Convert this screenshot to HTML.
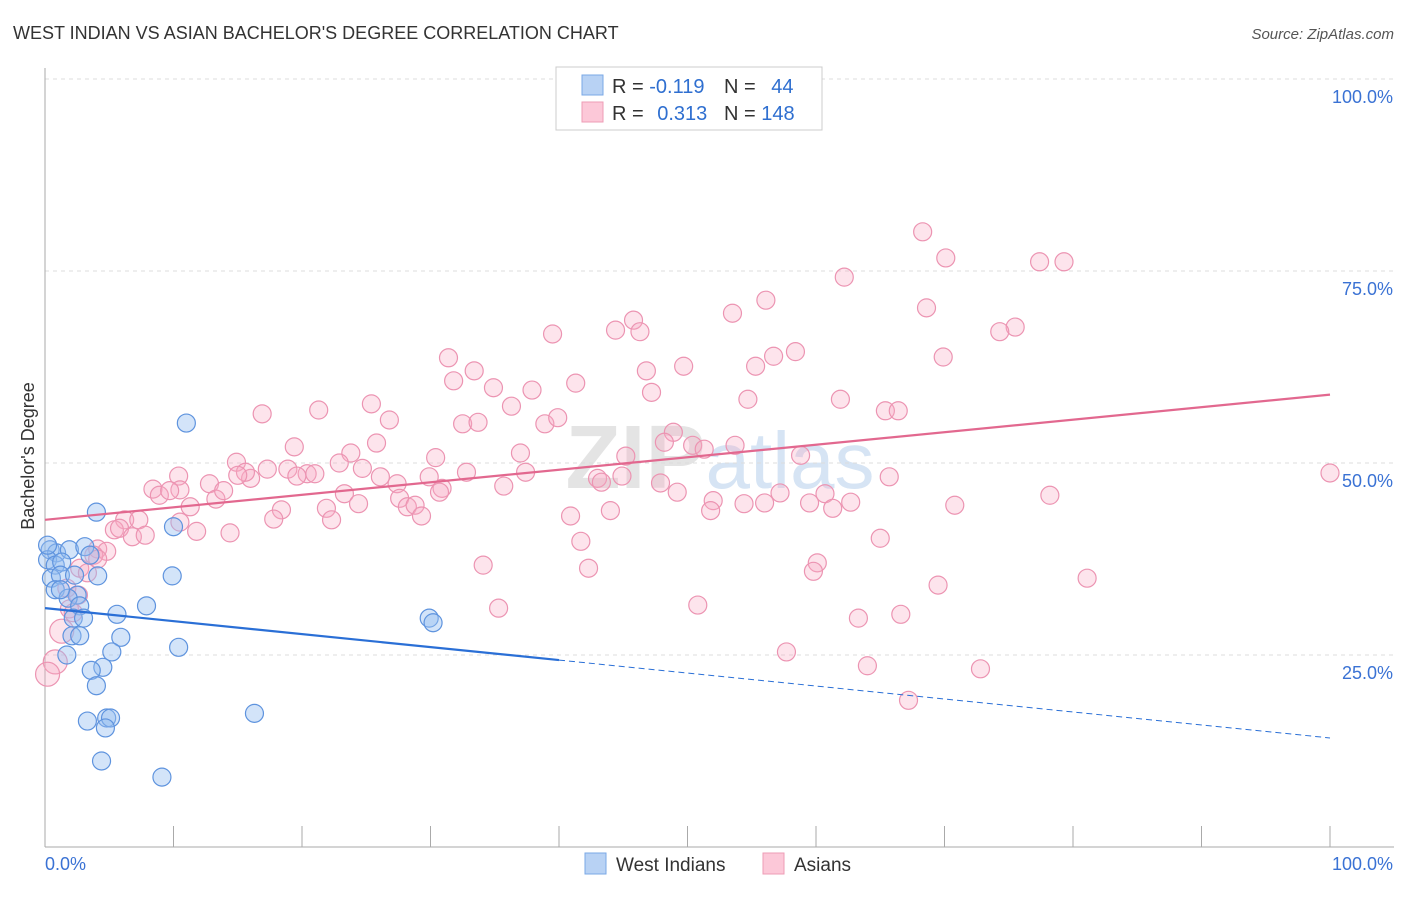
<!DOCTYPE html>
<html><head><meta charset="utf-8"><style>
body{margin:0;background:#fff;font-family:"Liberation Sans",sans-serif;}
svg text{font-family:"Liberation Sans",sans-serif;}
</style></head><body>
<svg id="chart" width="1406" height="892" xmlns="http://www.w3.org/2000/svg">
<text x="13" y="39" font-size="18" fill="#333">WEST INDIAN VS ASIAN BACHELOR'S DEGREE CORRELATION CHART</text>
<text x="1394" y="39" font-size="15" fill="#555" text-anchor="end" font-style="italic">Source: ZipAtlas.com</text>
<text x="720" y="488" font-size="90" fill="#e4e4e4" text-anchor="middle" font-family="Liberation Serif" font-weight="bold">ZIP<tspan fill="#d6e4f4" font-family="Liberation Sans" font-weight="normal" font-size="80">atlas</tspan></text>
<g id="grid"></g>
<g id="axes"></g>
<g id="marks"></g>
<text transform="translate(34,456) rotate(-90)" font-size="18" fill="#333" text-anchor="middle">Bachelor's Degree</text>
<g>
<rect x="556" y="67" width="266" height="63" fill="#fff" stroke="#ccc"/>
<rect x="582" y="75" width="21" height="20" fill="#b8d2f4" stroke="#7aa8e6"/>
<rect x="582" y="102" width="21" height="20" fill="#fcc8d8" stroke="#ee9cb6"/>
<text x="612" y="93" font-size="20" fill="#333">R = <tspan fill="#2f6fd0">-0.119</tspan></text>
<text x="724" y="93" font-size="20" fill="#333">N = <tspan fill="#2f6fd0" dx="10">44</tspan></text>
<text x="612" y="120" font-size="20" fill="#333">R = <tspan fill="#2f6fd0" dx="8">0.313</tspan></text>
<text x="724" y="120" font-size="20" fill="#333">N = <tspan fill="#2f6fd0">148</tspan></text>
</g>
<g>
<rect x="585" y="853" width="21" height="21" fill="#b8d2f4" stroke="#7aa8e6"/>
<text x="616" y="871" font-size="19" fill="#333">West Indians</text>
<rect x="763" y="853" width="21" height="21" fill="#fcc8d8" stroke="#ee9cb6"/>
<text x="794" y="871" font-size="19" fill="#333">Asians</text>
</g>
</svg>
<script>
const yTicks=[25,50,75,100];
const yTickLabels=["25.0%","50.0%","75.0%","100.0%"];
const blueX=[11.0,4.0,10.0,0.4,0.9,1.9,3.1,3.5,0.2,0.8,1.3,0.5,1.2,2.3,4.1,9.9,0.8,2.5,1.8,2.7,7.9,5.6,2.2,3.0,29.9,30.2,2.1,2.7,5.9,10.4,5.2,1.7,4.5,3.6,4.0,16.3,3.3,4.8,5.1,4.7,4.4,9.1,1.2,0.2];
const blueY=[55.2,43.6,41.7,38.7,38.3,38.7,39.1,38.0,37.4,36.7,37.1,35.0,35.4,35.4,35.3,35.3,33.5,32.8,32.4,31.4,31.4,30.3,29.8,29.8,29.8,29.2,27.5,27.5,27.3,26.0,25.4,25.0,23.4,23.0,21.0,17.4,16.4,16.8,16.8,15.5,11.2,9.1,33.5,39.3];
const pinkX=[100.0,68.3,70.1,77.4,79.3,62.2,56.1,53.5,68.6,75.5,74.3,45.8,44.4,46.3,39.5,58.4,56.7,69.9,31.4,33.4,49.7,46.8,55.3,31.8,41.3,34.9,37.9,47.2,36.3,25.4,54.7,61.9,65.4,66.4,21.3,16.9,26.8,32.5,33.7,38.9,39.9,48.9,25.8,19.4,50.4,53.7,48.2,51.3,58.8,37.0,23.8,30.4,45.2,14.9,17.3,18.9,20.4,22.9,24.7,32.8,37.4,43.0,44.9,65.7,10.4,8.4,10.5,12.8,16.0,15.6,15.0,19.6,21.0,26.1,27.4,29.9,30.9,35.7,43.3,47.9,49.2,27.6,28.2,28.8,29.3,23.3,21.9,18.4,8.9,9.7,13.3,13.9,11.3,10.5,11.8,14.4,17.8,22.3,24.4,30.7,40.9,44.0,52.0,51.8,54.4,56.0,59.5,60.7,61.3,62.7,70.8,78.2,57.2,6.2,7.3,5.4,5.8,6.8,7.8,4.1,4.8,3.8,4.1,2.7,3.3,1.7,2.6,1.9,2.2,41.7,34.1,42.3,60.1,59.8,65.0,81.1,69.5,50.8,35.3,63.3,66.6,57.7,64.0,72.8,67.2,1.3,0.8,0.2];
const pinkY=[48.7,80.1,76.7,76.2,76.2,74.2,71.2,69.5,70.2,67.7,67.1,68.6,67.3,67.1,66.8,64.5,63.9,63.8,63.7,62.0,62.6,62.0,62.6,60.7,60.4,59.8,59.5,59.2,57.4,57.7,58.3,58.3,56.8,56.8,56.9,56.4,55.6,55.1,55.3,55.1,55.9,54.0,52.6,52.1,52.3,52.3,52.7,51.8,51.0,51.3,51.3,50.7,50.9,50.1,49.2,49.2,48.6,50.0,49.3,48.8,48.8,48.0,48.3,48.2,48.3,46.6,46.5,47.3,48.0,48.8,48.4,48.3,48.6,48.2,47.3,48.2,46.7,47.0,47.5,47.4,46.2,45.4,44.3,44.5,43.1,46.0,44.1,43.9,45.8,46.4,45.3,46.4,44.3,42.3,41.1,40.9,42.7,42.6,44.7,46.2,43.1,43.8,45.1,43.8,44.7,44.8,44.8,46.0,44.1,44.9,44.5,45.8,46.1,42.6,42.6,41.3,41.5,40.4,40.6,38.8,38.5,38.0,37.5,36.3,35.7,33.7,32.8,31.0,30.5,39.8,36.7,36.3,37.0,35.9,40.2,35.0,34.1,31.5,31.1,29.8,30.3,25.4,23.6,23.2,19.1,28.1,24.1,22.5];
const blueTrend=[31.1,14.2];
const pinkTrend=[42.6,58.9];
const blueSolidEnd=40;

const NS="http://www.w3.org/2000/svg";
const X0=45,X1=1330,Y0=847,Y100=79;
function sx(v){return X0+(X1-X0)*v/100;}
function sy(v){return Y0-(Y0-Y100)*v/100;}
function mk(tag,attrs,parent){const e=document.createElementNS(NS,tag);for(const k in attrs)e.setAttribute(k,attrs[k]);parent.appendChild(e);return e;}
const grid=document.getElementById('grid'),axes=document.getElementById('axes'),marks=document.getElementById('marks');
yTicks.forEach((t,i)=>{
 const l=mk('line',{x1:45,x2:1394,y1:sy(t),y2:sy(t),stroke:'#dcdcdc','stroke-dasharray':'4,4'},grid);
 
 
 const tx=mk('text',{x:1393,y:sy(t)+24,'font-size':18,fill:'#3a72d4','text-anchor':'end'},axes);
 tx.textContent=yTickLabels[i];
 
 
});
const ax=mk('line',{x1:45,x2:45,y1:68,y2:847,stroke:'#aaa'},axes);


const bx=mk('line',{x1:45,x2:1394,y1:847,y2:847,stroke:'#aaa'},axes);


for(let i=0;i<=10;i++){
 const t=mk('line',{x1:sx(i*10),x2:sx(i*10),y1:826,y2:847,stroke:'#aaa'},axes);
 
 
}
const xl=mk('text',{x:45,y:870,'font-size':18,fill:'#3a72d4'},axes);xl.textContent='0.0%';


const xr=mk('text',{x:1393,y:870,'font-size':18,fill:'#3a72d4','text-anchor':'end'},axes);xr.textContent='100.0%';



pinkX.forEach((x,i)=>{
 const c=mk('circle',{cx:sx(x),cy:sy(pinkY[i]),r:(x<2&&pinkY[i]<29)?12:9,fill:'rgba(248,170,196,0.32)',stroke:'#ec94b2','stroke-width':1.2},marks);
 
 
});
blueX.forEach((x,i)=>{
 const c=mk('circle',{cx:sx(x),cy:sy(blueY[i]),r:9,fill:'rgba(150,190,240,0.42)',stroke:'#5e93de','stroke-width':1.2},marks);
 
 
});
function trendAt(tr,x){return tr[0]+(tr[1]-tr[0])*x/100;}
const pl=mk('line',{x1:sx(0),y1:sy(pinkTrend[0]),x2:sx(100),y2:sy(pinkTrend[1]),stroke:'#e2688f','stroke-width':2.2},marks);


const bl=mk('line',{x1:sx(0),y1:sy(blueTrend[0]),x2:sx(blueSolidEnd),y2:sy(trendAt(blueTrend,blueSolidEnd)),stroke:'#2a6fd6','stroke-width':2.2},marks);


const bd=mk('line',{x1:sx(blueSolidEnd),y1:sy(trendAt(blueTrend,blueSolidEnd)),x2:sx(100),y2:sy(blueTrend[1]),stroke:'#2a6fd6','stroke-width':1,'stroke-dasharray':'6,4'},marks);


</script>
</body></html>
